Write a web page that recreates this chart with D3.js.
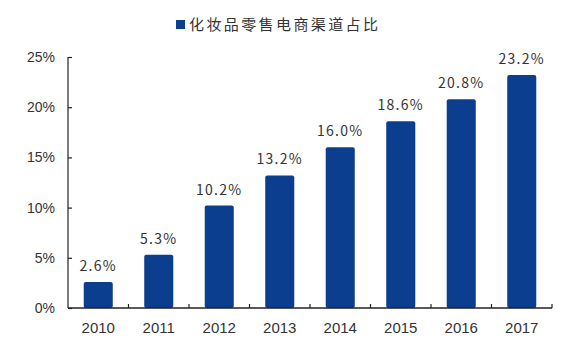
<!DOCTYPE html>
<html lang="zh">
<head>
<meta charset="UTF-8">
<script src="https://cdn.jsdelivr.net/npm/d3@7"></script>
<style>
  body { margin: 0; background: #fff; }
</style>
</head>
<body>
<script>
    // 数据
    let years = ["2010", "2011", "2012", "2013", "2014", "2015", "2016", "2017"];
    let shares = [2.6, 5.3, 10.2, 13.2, 16.0, 18.6, 20.8, 23.2];
    let yTicks = [0, 5, 10, 15, 20, 25];
    let seriesName = "化妆品零售电商渠道占比";

    let width = 572, height = 351;
    let plotLeft = 68, plotRight = 552, plotTop = 57, plotBottom = 308;
    let barColor = "#0c3e90";
    let textColor = "#333";

    let svg = d3.select("body").append("svg")
        .attr("width", width)
        .attr("height", height);

    let x = d3.scaleBand().domain(years).range([plotLeft, plotRight]).paddingInner(0.52).paddingOuter(0.26);
    let y = d3.scaleLinear().domain([0, 25]).range([plotBottom, plotTop]);

    // 柱子
    svg.selectAll("rect.bar")
        .data(shares)
        .enter()
        .append("rect")
        .attr("class", "bar")
        .attr("x", (d, i) => x(years[i]))
        .attr("y", d => y(d))
        .attr("width", x.bandwidth())
        .attr("height", d => y(0) - y(d))
        .attr("rx", 2)
        .attr("fill", barColor);

    // 数值标签
    svg.selectAll("text.val")
        .data(shares)
        .enter()
        .append("text")
        .attr("class", "val")
        .attr("x", (d, i) => x(years[i]) + x.bandwidth() / 2)
        .attr("y", d => y(d) - 11)
        .attr("text-anchor", "middle")
        .attr("font-family", "'Noto Sans CJK SC', 'Noto Sans', sans-serif")
        .attr("font-size", 14)
        .attr("letter-spacing", 1.3)
        .attr("fill", textColor)
        .text(d => d.toFixed(1) + "%");

    // y 轴
    let yAxis = d3.axisLeft(y).tickValues(yTicks).tickFormat(d => d + "%").tickSize(-4).tickPadding(13);
    let gy = svg.append("g").attr("transform", "translate(" + plotLeft + ",0)").call(yAxis);
    gy.select(".domain").attr("stroke", "#222").attr("stroke-width", 1.2).attr("d", "M0," + plotTop + "V" + plotBottom);
    gy.selectAll(".tick line").attr("stroke", "#222").attr("stroke-width", 1.2);
    gy.selectAll(".tick text")
        .attr("font-family", "'Liberation Sans', Arial, sans-serif")
        .attr("font-size", 14)
        .attr("fill", textColor);

    // x 轴（刻度在类别之间，朝上）
    let boundaries = years.map((d, i) => x(d) - x.step() * x.paddingInner() / 2);
    svg.append("line")
        .attr("x1", plotLeft).attr("x2", plotRight)
        .attr("y1", plotBottom).attr("y2", plotBottom)
        .attr("stroke", "#222").attr("stroke-width", 1.5);
    svg.selectAll("line.xtick")
        .data(boundaries.slice(1).concat([plotRight]))
        .enter()
        .append("line")
        .attr("class", "xtick")
        .attr("x1", d => d).attr("x2", d => d)
        .attr("y1", plotBottom).attr("y2", plotBottom - 4)
        .attr("stroke", "#222").attr("stroke-width", 1.2);
    svg.selectAll("text.xl")
        .data(years)
        .enter()
        .append("text")
        .attr("class", "xl")
        .attr("x", d => x(d) + x.bandwidth() / 2)
        .attr("y", 333)
        .attr("text-anchor", "middle")
        .attr("font-family", "'Liberation Sans', Arial, sans-serif")
        .attr("font-size", 15)
        .attr("fill", textColor)
        .text(d => d);

    // 图例
    svg.append("rect")
        .attr("x", 176).attr("y", 20)
        .attr("width", 9).attr("height", 9)
        .attr("fill", barColor);
    svg.append("text")
        .attr("x", 189).attr("y", 30)
        .attr("font-family", "'Noto Sans CJK SC', sans-serif")
        .attr("font-size", 15)
        .attr("letter-spacing", 2.4)
        .attr("fill", textColor)
        .text(seriesName);
</script>
</body>
</html>
